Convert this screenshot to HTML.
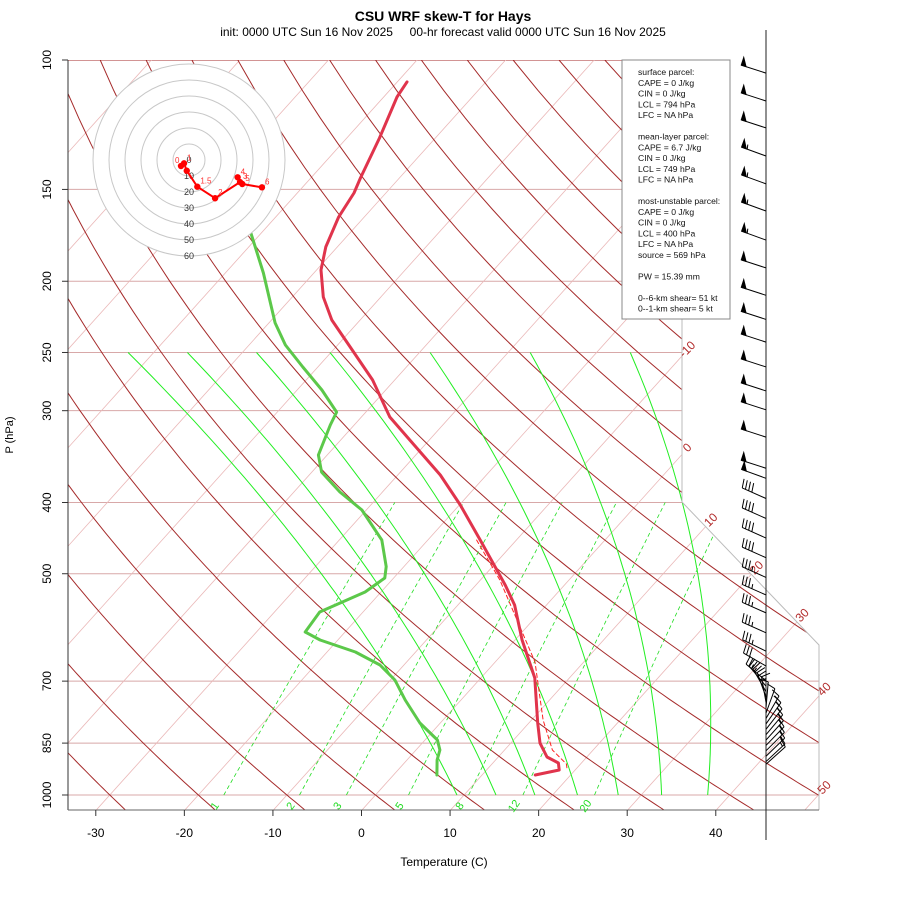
<!DOCTYPE html>
<html><head><meta charset="utf-8">
<style>
html,body{margin:0;padding:0;background:#fff;}
svg{display:block;font-family:"Liberation Sans",sans-serif;}
</style></head>
<body>
<svg id="chart" width="900" height="900" viewBox="0 0 900 900" xmlns="http://www.w3.org/2000/svg">
<defs><clipPath id="plotclip"><polygon points="68,60 682,60 682,502 819,645 819,810 68,810"/></clipPath></defs>
<text x="443" y="21" text-anchor="middle" font-size="14" font-weight="bold">CSU WRF skew-T for Hays</text>
<text x="443" y="36" text-anchor="middle" font-size="12" xml:space="preserve">init: 0000 UTC Sun 16 Nov 2025     00-hr forecast valid 0000 UTC Sun 16 Nov 2025</text>
<g id="grid" clip-path="url(#plotclip)"></g>
<g id="traces" clip-path="url(#plotclip)"></g>
<g id="over"></g>
<text x="444" y="866" text-anchor="middle" font-size="12">Temperature (C)</text>
<text transform="translate(13,435) rotate(-90)" text-anchor="middle" font-size="11">P (hPa)</text>
</svg>
<script>
// ---- data ----
const pressureLevels = [100,150,200,250,300,400,500,700,850,1000];
const tempTicks = [-30,-20,-10,0,10,20,30,40];
const isoLabels = [-10,0,10,20,30,40,50];
const mixRatios = [1,2,3,5,8,12,20];
const moistT1000 = [9.2,13.6,18,22.8,27.4,32.3,37.5];
const moistT250 = [-72.9,-66.2,-58.4,-50.1,-38.8,-27.5,-16.2];
const tempP = [107.1,112.3,127.7,144.7,151.7,163.5,179.6,193.1,210.1,225.8,245.7,272.5,306.0,328.9,367.0,403.1,449.8,517.9,551.4,615.4,693.2,798.2,849.9,887.8,904.7,924.7,939.4];
const tempT = [-68.9,-68.5,-66.3,-64.4,-63.6,-62.9,-61.3,-59.5,-56.5,-53.2,-48.4,-42.5,-36.8,-32.2,-25.2,-19.9,-14.1,-6.7,-3.6,0.8,6.1,11.0,13.3,15.5,17.4,18.2,16.0];
const dewP = [160,170.3,194.9,227.9,244.2,261.6,281.2,301.3,313.8,344.7,363.6,387.1,409.5,449.8,488.9,506.7,529.4,563.7,600.1,615.4,639.0,665.6,697.5,742.6,798.2,841.8,868.6,896.3,939.4];
const dewT = [-74,-71.6,-65.7,-59.3,-55.9,-51.7,-47.2,-43.3,-42.7,-41.0,-38.9,-34.8,-30.5,-25.2,-22.0,-21.0,-21.8,-24.9,-24.5,-22.0,-16.8,-12.7,-9.5,-6.3,-2.3,1.4,2.7,3.4,4.9];
const parcelP = [449.8,510,659.3,790.7,868.6,907.5,924.7];
const parcelT = [-14.5,-7.8,4.5,11.3,15.4,18.4,19.1];
const hodoU = [-5,-3.1,-1.4,5.2,16.3,31.9,30.4,33.3,45.6];
const hodoV = [-3.75,-2.1,-6.7,-16.7,-23.9,-13.8,-10.8,-15,-17.1];
const hodoLabels = ["0","1","","1.5","2","3","4","5","6"];
const barbP = [104.2,113.7,123.7,135.1,147.4,160.5,175.8,191.8,209.0,225.4,242.0,261.6,282.0,299.2,325.9,359.3,370.8,395.0,420.5,447.1,475.5,505.8,534.4,565.2,601.6,637.3,667.6,699.3,711.2,723.3,735.6,748.1,760.8,773.8,787.0,800.4,814.0,827.9,841.9,856.2,870.8,885.6,900.6,908.2];
const barbSpd = [50,50,50,55,55,55,55,50,50,50,50,50,50,50,50,50,50,40,40,40,40,35,35,35,35,35,30,25,25,20,20,15,10,10,15,15,15,15,15,15,15,15,15,10];
const barbDir = [288,288,288,290,290,290,290,288,288,288,288,288,288,288,288,288,290,294,294,294,294,294,294,294,294,296,300,310,320,330,340,350,5,20,30,35,38,40,42,44,45,46,47,48];
const infoLines = ["surface parcel:","CAPE = 0 J/kg","CIN = 0 J/kg","LCL = 794 hPa","LFC = NA hPa","","mean-layer parcel:","CAPE = 6.7 J/kg","CIN = 0 J/kg","LCL = 749 hPa","LFC = NA hPa","","most-unstable parcel:","CAPE = 0 J/kg","CIN = 0 J/kg","LCL = 400 hPa","LFC = NA hPa","source = 569 hPa","","PW =  15.39 mm","","0--6-km shear= 51 kt","0--1-km shear= 5 kt"];

// ---- axes functions ----
function Y(p){return 60+319.2*Math.log(p/100);}
function X(T,p){return 362+8.857*T+0.9*(810-Y(p));}
const NS="http://www.w3.org/2000/svg";
function mk(tag,attrs,parent){const e=document.createElementNS(NS,tag);for(const k in attrs)e.setAttribute(k,attrs[k]);parent.appendChild(e);return e;}
const grid=document.getElementById('grid'),traces=document.getElementById('traces'),over=document.getElementById('over');
function pathD(pts){return pts.map((q,i)=>(i?'L':'M')+q[0].toFixed(1)+','+q[1].toFixed(1)).join(' ');}

// pressure lines
pressureLevels.forEach(p=>{
  const l=mk('line',{x1:68,x2:819,y1:Y(p),y2:Y(p),stroke:(p===100?'#a52a2a':'#d8a8a8'),'stroke-width':1},grid);
  
  
});
// isotherms
for(let T=-150;T<=60;T+=10){
  const l=mk('line',{x1:X(T,1050),y1:Y(1050),x2:X(T,100),y2:Y(100),stroke:'#eab8b8','stroke-width':0.8},grid);
  
  
}
// dry adiabats
for(let th=-40;th<=220;th+=10){
  const pts=[];
  for(let p=1050;p>=100;p-=10){const T=(th+273.15)*Math.pow(p/1000,0.2857)-273.15;pts.push([X(T,p),Y(p)]);}
  const e=mk('path',{d:pathD(pts),fill:'none',stroke:'#a52a2a','stroke-width':1},grid);
  
  
}
// mixing ratio lines
mixRatios.forEach(w=>{
  const pts=[];
  for(let p=1000;p>=400;p-=10){const e=w*p/(622+w);const L=Math.log(e/6.112);const T=243.5*L/(17.67-L);pts.push([X(T,p),Y(p)]);}
  const e=mk('path',{d:pathD(pts),fill:'none',stroke:'#22dd22','stroke-width':0.8,'stroke-dasharray':'4,3'},grid);
  
  
});
// moist adiabats
moistT1000.forEach((t0,i)=>{
  const t1=moistT250[i];const pts=[];
  for(let p=1000;p>=250;p-=10){const f=Math.log(1000/p)/Math.log(4);const T=t0+(t1-t0)*f+13*f*(1-f);pts.push([X(T,p),Y(p)]);}
  const e=mk('path',{d:pathD(pts),fill:'none',stroke:'#22ee22','stroke-width':1},grid);
  
  
});
// traces
function trace(P,T,attrs,name){const pts=P.map((p,i)=>[X(T[i],p),Y(p)]);const e=mk('path',Object.assign({d:pathD(pts),fill:'none','stroke-linejoin':'round','stroke-linecap':'round'},attrs),traces);return e;}
let e1=trace(parcelP,parcelT,{stroke:'#ff2020','stroke-width':1,'stroke-dasharray':'4,3'});


let e2=trace(dewP,dewT,{stroke:'#5cc84a','stroke-width':3});


let e3=trace(tempP,tempT,{stroke:'#e0344c','stroke-width':3});



// plot boundary and axes
let bd=mk('polyline',{points:'682,60 682,502 819,645 819,810',fill:'none',stroke:'#bbbbbb','stroke-width':1},over);


let la=mk('line',{x1:68,y1:60,x2:68,y2:810,stroke:'#333','stroke-width':1},over);


let ba=mk('line',{x1:68,y1:810,x2:819,y2:810,stroke:'#666','stroke-width':1},over);


pressureLevels.forEach(p=>{
  const t=mk('line',{x1:62,x2:68,y1:Y(p),y2:Y(p),stroke:'#333'},over);
  
  
  const tx=mk('text',{transform:'translate(51,'+Y(p)+') rotate(-90)','text-anchor':'middle','font-size':12},over);
  tx.textContent=p;
  
  
});
tempTicks.forEach(T=>{
  const x=X(T,1050);
  const t=mk('line',{x1:x,x2:x,y1:810,y2:816,stroke:'#333'},over);
  
  
  const tx=mk('text',{x:x,y:837,'text-anchor':'middle','font-size':12},over);
  tx.textContent=T;
  
  
});
// isotherm labels
isoLabels.forEach(T=>{
  const a=362+8.857*T+729;let x,y;
  y=810-(682-362-8.857*T)/0.9;
  if(y<=502){x=682;}else{y=(a-201)/1.858;x=682+(y-502)/1.0438;if(y>645){x=819;y=(a-819)/0.9;}}
  const tx=mk('text',{transform:'translate('+(x+8)+','+(y-4)+') rotate(-45)','text-anchor':'middle','font-size':12,fill:'#b22a2a'},over);
  tx.textContent=T;
  
  
});
// mixing ratio labels
mixRatios.forEach(w=>{
  const p=1000;const e=w*p/(622+w);const L=Math.log(e/6.112);const T=243.5*L/(17.67-L);
  const x=X(T,p)-6;
  const tx=mk('text',{transform:'translate('+x+',808) rotate(-55)','text-anchor':'middle','font-size':11,fill:'#22dd22'},over);
  tx.textContent=w;
  
  
});

// hodograph
const hg=mk('g',{},over);


const hcx=189,hcy=160,hs=1.6;
for(let r=6;r>=1;r--){
  const c=mk('circle',{cx:hcx,cy:hcy,r:r*16,fill:(r===6?'#fff':'none'),stroke:'#c8c8c8','stroke-width':1},hg);
  
  
}
for(let r=0;r<=6;r++){
  const t=mk('text',{x:hcx,y:hcy+r*16+3,'text-anchor':'middle','font-size':9,fill:'#333'},hg);
  t.textContent=r*10;
  
  
}
const hpts=hodoU.map((u,i)=>[hcx+u*hs,hcy-hodoV[i]*hs]);
const hl=mk('path',{d:pathD(hpts),fill:'none',stroke:'#ff0000','stroke-width':2},hg);


hpts.forEach((q,i)=>{
  const c=mk('circle',{cx:q[0],cy:q[1],r:3.2,fill:'#ff0000'},hg);
  
  
  if(hodoLabels[i]){
    const t=mk('text',{x:q[0]+(i===0?-6:3),y:q[1]-3,'font-size':8,fill:'#ff3030'},hg);
    t.textContent=hodoLabels[i];
    
    
  }
});

// info box
const ib=mk('g',{},over);


mk('rect',{x:622,y:60,width:108,height:259,fill:'#fff',stroke:'#888','stroke-width':1},ib);
infoLines.forEach((s,i)=>{
  if(!s)return;
  const t=mk('text',{x:638,y:75+i*10.75,'font-size':8.6,fill:'#111'},ib);
  t.textContent=s;
  
  
});

// wind barbs
const wa=mk('line',{x1:766,y1:30,x2:766,y2:840,stroke:'#222','stroke-width':1},over);


const wg=mk('g',{stroke:'#000','stroke-width':1,fill:'#000'},over);


barbP.forEach((p,i)=>{
  const y=Y(p),x=766,L=26;
  const a=barbDir[i]*Math.PI/180;
  const ux=Math.sin(a),uy=-Math.cos(a);
  const nx=-uy,ny=ux; // perpendicular
  let sx=nx,sy=ny; if(ny>0||(ny===0&&nx<0)){sx=-nx;sy=-ny;}
  const g=mk('g',{},wg);
  
  
  const tx=x+ux*L,ty=y+uy*L;
  mk('line',{x1:x,y1:y,x2:tx,y2:ty},g);
  let s=barbSpd[i],pos=0;
  while(s>=50){
    const bx=x+ux*(L-pos),by=y+uy*(L-pos);
    const cx2=x+ux*(L-pos-5),cy2=y+uy*(L-pos-5);
    mk('polygon',{points:bx+','+by+' '+cx2+','+cy2+' '+(bx+sx*8)+','+(by+sy*8)},g);
    s-=50;pos+=6;
  }
  while(s>=10){
    const bx=x+ux*(L-pos),by=y+uy*(L-pos);
    mk('line',{x1:bx,y1:by,x2:bx+sx*9+ux*2,y2:by+sy*9+uy*2},g);
    s-=10;pos+=3.5;
  }
  if(s>=5){
    if(pos===0)pos=3;
    const bx=x+ux*(L-pos),by=y+uy*(L-pos);
    mk('line',{x1:bx,y1:by,x2:bx+sx*4.5+ux,y2:by+sy*4.5+uy},g);
  }
});
</script>
</body></html>
